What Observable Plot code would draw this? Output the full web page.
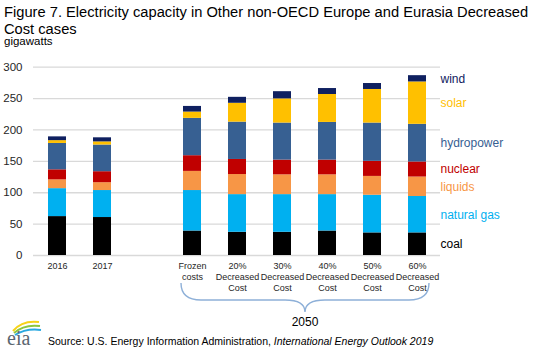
<!DOCTYPE html>
<html><head><meta charset="utf-8">
<script src="https://cdn.jsdelivr.net/npm/d3@7"></script>
<script src="https://cdn.jsdelivr.net/npm/@observablehq/plot@0.6"></script>
<style>
body{margin:0;background:#fff;font-family:Arial,"Liberation Sans",sans-serif;}
#wrap{position:relative;width:534px;height:350px;overflow:hidden;background:#fff;}
#title{position:absolute;left:4px;top:4px;font-size:14.7px;line-height:16.5px;color:#000;white-space:nowrap;}
#unit{position:absolute;left:4px;top:35px;font-size:11.5px;line-height:12px;color:#000;}
#chart{position:absolute;left:0;top:52px;}
#source{position:absolute;left:48px;top:334.7px;font-size:10.5px;line-height:12px;color:#000;white-space:nowrap;}
#logo{position:absolute;left:2px;top:312px;}
</style></head>
<body>
<div id="wrap">
  <div id="title">Figure 7. Electricity capacity in Other non-OECD Europe and Eurasia Decreased<br>Cost cases</div>
  <div id="unit">gigawatts</div>
  <div id="chart"></div>
  <svg id="logo" width="44" height="38" viewBox="0 0 44 38" overflow="visible">
    <path d="M11 19 Q20 8 37 10" fill="none" stroke="#f6d318" stroke-width="2"/>
    <path d="M12 21 Q22 12 38 14" fill="none" stroke="#8cc63f" stroke-width="2"/>
    <path d="M13 23 Q24 16 39 18" fill="none" stroke="#29a8e0" stroke-width="2"/>
    <text x="5" y="33" font-family="'Liberation Serif','DejaVu Serif',serif" font-size="20" fill="#5b6670">eia</text>
  </svg>
  <div id="source">Source: U.S. Energy Information Administration, <i>International Energy Outlook 2019</i></div>
</div>
<script>
// ---- data ----
const categories = ["2016", "2017", "Frozen", "20%", "30%", "40%", "50%", "60%"];
const tickLabels = ["2016", "2017", "Frozen\ncosts", "20%\nDecreased\nCost", "30%\nDecreased\nCost", "40%\nDecreased\nCost", "50%\nDecreased\nCost", "60%\nDecreased\nCost"];
const seriesNames = ["coal", "natural gas", "liquids", "nuclear", "hydropower", "solar", "wind"];
const seriesColors = ["#000000", "#00b0f0", "#f79646", "#c00000", "#376092", "#ffc000", "#0f2060"];
const coal       = [62, 60.5, 39, 37, 37, 39, 36, 36];
const naturalGas = [44.5, 43, 64.5, 60, 60, 58, 60, 58];
const liquids    = [14, 12.5, 30.5, 32, 31.5, 31.5, 30, 31];
const nuclear    = [16, 17.5, 25, 24, 23.5, 23.5, 24, 24];
const hydropower = [42, 42.5, 59.5, 59.5, 59, 60, 61, 60];
const solar      = [4.5, 5, 10, 30, 38.5, 44.5, 53.5, 67.5];
const wind       = [6, 6.5, 9, 9.5, 11.5, 9.5, 9.5, 10];
const yTicks = [0, 50, 100, 150, 200, 250, 300];
const groupLabel = "2050";

// ---- build table ----
const seriesValues = [coal, naturalGas, liquids, nuclear, hydropower, solar, wind];
const rows = [];
seriesNames.forEach((s, i) => categories.forEach((c, j) => rows.push({series: s, cat: c, value: seriesValues[i][j]})));
const xDomain = [categories[0], categories[1], " ", ...categories.slice(2)];
const labelOf = Object.fromEntries(categories.map((c, i) => [c, tickLabels[i]]));
const lastCat = categories[categories.length - 1];

const font = 'Arial, "Liberation Sans", sans-serif';
const plot = Plot.plot({
  width: 534, height: 280,
  marginLeft: 33, marginRight: 94, marginTop: 14.7, marginBottom: 77,
  style: {fontFamily: font, background: "transparent", overflow: "visible"},
  x: {domain: xDomain, paddingInner: 0.6, paddingOuter: 0.3, axis: null},
  y: {domain: [0, 300], axis: null},
  color: {domain: seriesNames, range: seriesColors},
  marks: [
    Plot.gridY(yTicks, {stroke: "#d9d9d9", strokeOpacity: 1, strokeWidth: 1.3}),
    Plot.barY(rows, {x: "cat", y: "value", fill: "series", order: seriesNames}),
    Plot.axisY(yTicks, {tickSize: 0, tickPadding: 11, fontSize: 11.5, fill: "#262626", label: null}),
    Plot.axisX(categories, {tickSize: 0, tickPadding: 6, fontSize: 9, lineHeight: 1.22, fill: "#262626", label: null, tickFormat: k => labelOf[k] ?? ""}),
    Plot.text(rows.filter(d => d.cat === lastCat), Plot.stackY({x: "cat", y: "value", z: "series", order: seriesNames, text: "series", fill: "series", dx: 23, textAnchor: "start", fontSize: 12}))
  ]
});
document.getElementById("chart").appendChild(plot);

// brace under the 2050 group, positioned with the plot's x scale
const xs = plot.scale("x");
const bw = xs.bandwidth;
const bL = xs.apply(categories[2]) - 2;
const bR = xs.apply(lastCat) + bw + 3;
const bC = (bL + bR) / 2;
const bTop = 231, bMid = 248, bTip = 260;
const svg = d3.select(plot);
svg.append("path")
  .attr("d", `M${bL},${bTop} Q${bL},${bMid} ${bL + 20},${bMid} L${bC - 20},${bMid} Q${bC},${bMid} ${bC},${bTip} Q${bC},${bMid} ${bC + 20},${bMid} L${bR - 20},${bMid} Q${bR},${bMid} ${bR},${bTop}`)
  .attr("fill", "none").attr("stroke", "#8eb0d8").attr("stroke-width", 1.4);
svg.append("text")
  .attr("x", bC).attr("y", 273.5).attr("text-anchor", "middle")
  .attr("font-size", 12).attr("font-family", font).attr("fill", "#000")
  .text(groupLabel);
</script>
</body></html>
